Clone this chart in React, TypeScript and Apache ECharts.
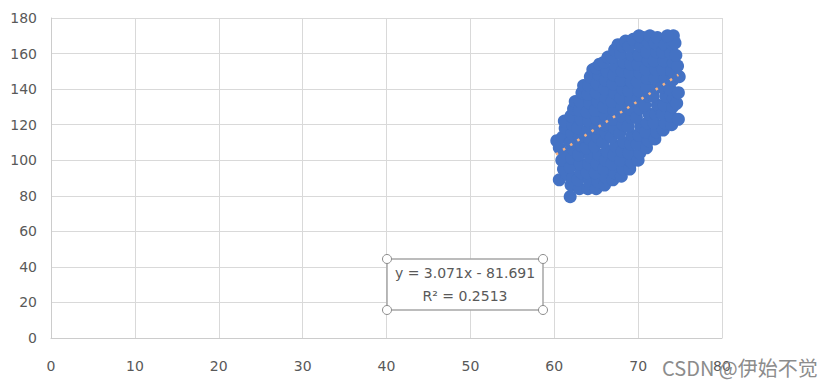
import React, { useEffect, useRef } from "react";
import * as echarts from "echarts";

// Scatter points [x, y]
const scatterPoints: number[][] = [
  [60.3, 111], [60.6, 107], [60.6, 89], [61.9, 79.5],
  [61.5, 92], [61.1, 95], [60.9, 100], [61.2, 104], [61.0, 113], [61.3, 118], [61.2, 122],
  [62.0, 86], [62.2, 90], [61.9, 96], [62.1, 101], [62.3, 106], [61.9, 110], [62.1, 115], [62.2, 120], [62.0, 125], [62.3, 129], [62.5, 133],
  [63.0, 84], [62.8, 89], [63.2, 93], [63.1, 98], [62.9, 103], [63.3, 108], [63.0, 113], [62.8, 118], [63.2, 123], [63.0, 128], [63.1, 133], [63.3, 138], [63.5, 142],
  [64.0, 84], [64.2, 88], [63.9, 93], [64.1, 98], [64.3, 102], [63.8, 107], [64.2, 112], [64.0, 117], [64.1, 122], [63.9, 127], [64.2, 132], [64.0, 137], [64.1, 142], [64.3, 147], [64.6, 151],
  [65.0, 84], [65.2, 88], [64.9, 93], [65.1, 98], [65.3, 103], [64.8, 108], [65.2, 113], [65.0, 118], [65.1, 123], [64.9, 128], [65.2, 133], [65.0, 138], [65.1, 143], [65.3, 148], [65.0, 152], [65.4, 154],
  [66.0, 86], [66.2, 90], [65.9, 95], [66.1, 100], [66.3, 105], [65.8, 110], [66.2, 115], [66.0, 120], [66.1, 125], [65.9, 130], [66.2, 135], [66.0, 140], [66.1, 145], [66.3, 150], [65.9, 155], [66.4, 158],
  [67.0, 89], [67.2, 93], [66.9, 98], [67.1, 103], [67.3, 108], [66.8, 113], [67.2, 118], [67.0, 123], [67.1, 128], [66.9, 133], [67.2, 138], [67.0, 143], [67.1, 148], [67.3, 153], [66.9, 158], [67.2, 162], [67.6, 165],
  [68.0, 91], [68.2, 95], [67.9, 100], [68.1, 105], [68.3, 110], [67.8, 115], [68.2, 120], [68.0, 125], [68.1, 130], [67.9, 135], [68.2, 140], [68.0, 145], [68.1, 150], [68.3, 155], [67.9, 160], [68.2, 164], [68.5, 167],
  [69.0, 95], [69.2, 99], [68.9, 104], [69.1, 109], [69.3, 114], [68.8, 119], [69.2, 124], [69.0, 129], [69.1, 134], [68.9, 139], [69.2, 144], [69.0, 149], [69.1, 154], [69.3, 159], [68.9, 164], [69.4, 168],
  [70.0, 100], [70.2, 104], [69.9, 109], [70.1, 114], [70.3, 119], [69.8, 124], [70.2, 129], [70.0, 134], [70.1, 139], [69.9, 144], [70.2, 149], [70.0, 154], [70.1, 159], [70.3, 164], [70.6, 169], [70.1, 170],
  [71.0, 107], [71.2, 111], [70.9, 116], [71.1, 121], [71.3, 126], [70.8, 131], [71.2, 136], [71.0, 141], [71.1, 146], [70.9, 151], [71.2, 156], [71.0, 161], [71.3, 166], [71.4, 170],
  [72.0, 112], [72.2, 116], [71.9, 121], [72.1, 126], [72.3, 131], [71.8, 136], [72.2, 141], [72.0, 146], [72.1, 151], [71.9, 156], [72.2, 161], [72.0, 166], [72.3, 169],
  [73.0, 117], [73.2, 121], [72.9, 126], [73.1, 131], [73.3, 136], [72.8, 141], [73.2, 146], [73.0, 151], [73.1, 156], [72.9, 161], [73.2, 165], [73.6, 169],
  [74.0, 120], [73.9, 125], [74.1, 130], [74.2, 135], [73.8, 140], [74.1, 145], [74.0, 150], [74.2, 155], [73.9, 160], [74.1, 165], [74.2, 170],
  [74.8, 123], [74.6, 132], [74.8, 138], [74.9, 147], [74.7, 153], [74.5, 159], [74.4, 166], [73.5, 170],
];

// Linear trendline end points
const trendPoints: number[][] = [
  [60.2, 103.2],
  [74.8, 148.0],
];

const equationLines: string[] = ["y = 3.071x - 81.691", "R² = 0.2513"];
const watermarkText = "CSDN @伊始不觉";

const xMin = 0, xMax = 80, xStep = 10;
const yMin = 0, yMax = 180, yStep = 20;

export default function App() {
  const ref = useRef<HTMLDivElement>(null);

  useEffect(() => {
    if (!ref.current) return;
    const chart = echarts.init(ref.current, undefined, { renderer: "svg" });
    const labelStyle = { color: "#595959", fontSize: 14, fontFamily: "DejaVu Sans" };
    const box = { x: 387, y: 259, w: 156, h: 51 };
    const corners = [
      [box.x, box.y], [box.x + box.w, box.y],
      [box.x, box.y + box.h], [box.x + box.w, box.y + box.h],
    ];
    chart.setOption({
      animation: false,
      backgroundColor: "#ffffff",
      grid: { left: 51, right: 106, top: 18, bottom: 47 },
      xAxis: {
        type: "value",
        min: xMin, max: xMax, interval: xStep,
        axisLine: { show: true, lineStyle: { color: "#cccccc", width: 1 } },
        axisTick: { show: false },
        axisLabel: { ...labelStyle, margin: 21 },
        splitLine: { show: true, lineStyle: { color: "#d9d9d9", width: 1 } },
      },
      yAxis: {
        type: "value",
        min: yMin, max: yMax, interval: yStep,
        axisLine: { show: true, lineStyle: { color: "#cccccc", width: 1 } },
        axisTick: { show: false },
        axisLabel: { ...labelStyle, margin: 14 },
        splitLine: { show: true, lineStyle: { color: "#d9d9d9", width: 1 } },
      },
      series: [
        {
          type: "scatter",
          data: scatterPoints,
          symbol: "circle",
          symbolSize: 13,
          itemStyle: { color: "#4472C4", opacity: 1, borderWidth: 0, borderColor: "transparent" },
          emphasis: { disabled: true },
          z: 2,
        },
        {
          type: "line",
          data: trendPoints,
          symbol: "none",
          lineStyle: { color: "#F4B183", width: 2.5, type: [2.5, 6] },
          emphasis: { disabled: true },
          z: 3,
        },
      ],
      graphic: [
        {
          type: "rect",
          shape: { x: box.x, y: box.y, width: box.w, height: box.h },
          style: { fill: "#ffffff", stroke: "#a6a6a6", lineWidth: 1.5 },
          z: 10,
        },
        ...corners.map(([cx, cy]) => ({
          type: "circle",
          shape: { cx, cy, r: 4.5 },
          style: { fill: "#ffffff", stroke: "#8c8c8c", lineWidth: 1 },
          z: 11,
        })),
        ...equationLines.map((t, i) => ({
          type: "text",
          x: box.x + box.w / 2,
          y: 273 + i * 23,
          style: {
            text: t,
            fill: "#595959",
            font: '14px "DejaVu Sans"',
            textAlign: "center",
            textVerticalAlign: "middle",
          },
          z: 12,
        })),
        {
          type: "text",
          x: 662,
          y: 367,
          style: {
            text: watermarkText,
            fill: "#8c8c8c",
            font: '20px "Noto Sans CJK SC"',
            textAlign: "left",
            textVerticalAlign: "middle",
          },
          z: 20,
        },
      ],
    });
    return () => chart.dispose();
  }, []);

  return (
    <div
      ref={ref}
      style={{ position: "fixed", left: 0, top: 0, width: 828, height: 385, background: "#fff" }}
    />
  );
}
